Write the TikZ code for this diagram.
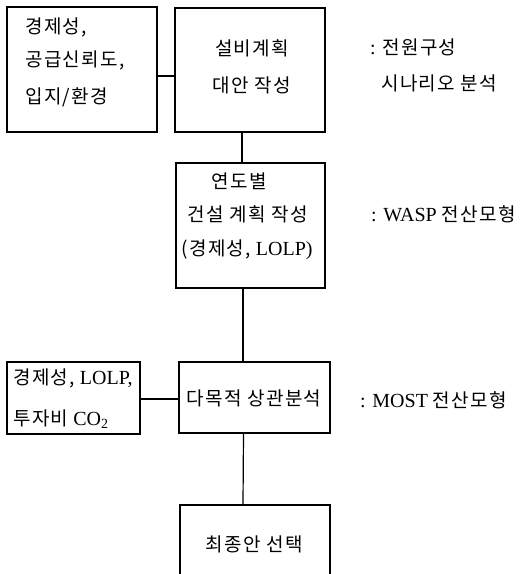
\documentclass[tikz,border=0pt]{standalone}
\usepackage{fontspec}
\setmainfont{Liberation Serif}
\newfontfamily\kr[LetterSpace=7,Scale=0.95]{Noto Sans CJK KR}
\begin{document}
\begin{tikzpicture}[x=1pt,y=-1pt,
  box/.style={draw, line width=1.3pt, inner sep=0pt},
  txt/.style={inner sep=0pt, font=\fontsize{20}{23}\selectfont},
  link/.style={line width=1.2pt}]
\useasboundingbox (0,0) rectangle (520,574);
% boxes
\node[box, minimum width=150, minimum height=125] (A) at (82,69.5) {};
\node[box, minimum width=150, minimum height=124] (B) at (250,70) {};
\node[box, minimum width=149, minimum height=125] (C) at (250.5,225.5) {};
\node[box, minimum width=133, minimum height=72] (E) at (73.5,398) {};
\node[box, minimum width=151, minimum height=71] (D) at (254.5,397.5) {};
\node[box, minimum width=150, minimum height=90] (F) at (255,550) {};
% texts in boxes
\node[txt, anchor=west] (a1) at (25,27) {\kr 경제성,};
\node[txt, anchor=west] (a2) at (25,60) {\kr 공급신뢰도,};
\node[txt, anchor=west] (a3) at (25,97) {\kr 입지/환경};
\node[txt] (b1) at (252,48) {\kr 설비계획};
\node[txt] (b2) at (252,85) {\kr 대안 작성};
\node[txt] (c1) at (239,181) {\kr 연도별};
\node[txt] (c2) at (248,214) {\kr 건설 계획 작성};
\node[txt] (c3) at (247,250) {{\kr (경제성,} LOLP)};
\node[txt, anchor=west] (e1) at (13,378) {{\kr 경제성,} LOLP,};
\node[txt, anchor=west] (e2) at (13,419) {{\kr 투자비} CO\textsubscript{2}};
\node[txt] (d1) at (254,398) {\kr 다목적 상관분석};
\node[txt] (f1) at (254,544) {\kr 최종안 선택};
% side notes
\node[txt, anchor=west] (n1) at (370,47) {: {\kr 전원구성}};
\node[txt, anchor=west] (n2) at (381,83) {\kr 시나리오 분석};
\node[txt, anchor=west] (n3) at (371,214) {: WASP {\kr 전산모형}};
\node[txt, anchor=west] (n4) at (360,400) {: MOST {\kr 전산모형}};
% connectors
\draw[link] ([yshift=-6.5pt]A.east) -- ([yshift=-6pt]B.west);
\draw[link] ([xshift=-8pt]B.south) -- ([xshift=-8.5pt]C.north);
\draw[link] ([xshift=-7.5pt]C.south) -- ([xshift=-11.5pt]D.north);
\draw[link] ([yshift=-1pt]E.east) -- ([yshift=-1.5pt]D.west);
\draw[link] ([xshift=-11pt]D.south) -- ([xshift=-12pt]F.north);
\end{tikzpicture}
\end{document}
